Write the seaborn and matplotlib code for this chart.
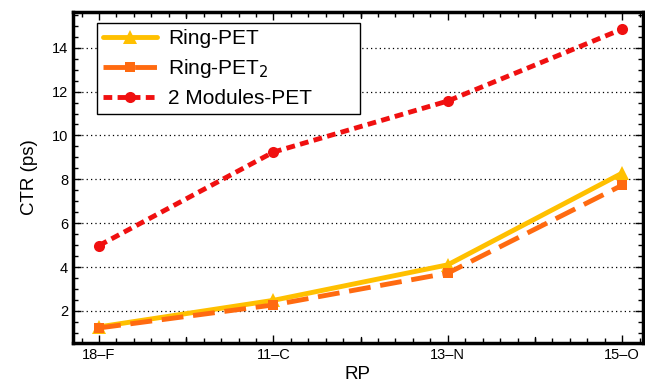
import numpy as np
import pandas as pd
import seaborn as sns
import matplotlib.pyplot as plt
from matplotlib.ticker import MultipleLocator

# data
isotopes = ["18\u2013F", "11\u2013C", "13\u2013N", "15\u2013O"]
ring_pet = [1.27, 2.48, 4.1, 8.28]
ring_pet2 = [1.22, 2.27, 3.72, 7.73]
modules_pet = [4.98, 9.24, 11.57, 14.85]

sns.set_theme(style="ticks")
plt.rcParams['font.family'] = ['Liberation Sans', 'DejaVu Sans']
plt.rcParams['text.color'] = 'black'
plt.rcParams['axes.labelcolor'] = 'black'
plt.rcParams['xtick.color'] = 'black'
plt.rcParams['ytick.color'] = 'black'

pos = np.arange(len(isotopes))
df = pd.DataFrame({"pos": pos, "ring": ring_pet, "ring2": ring_pet2, "mod": modules_pet})

fig, ax = plt.subplots(figsize=(6.45, 3.85), dpi=100)

sns.lineplot(data=df, x="pos", y="ring", ax=ax, color="#FFC000", lw=3.5,
             marker="^", markersize=10, markeredgewidth=0, label="Ring-PET")
sns.lineplot(data=df, x="pos", y="ring2", ax=ax, color="#FF6A10", lw=3.5,
             marker="s", markersize=7, markeredgewidth=0, label="Ring-PET$_2$",
             dashes=False, linestyle=(0, (4.5, 2)))
sns.lineplot(data=df, x="pos", y="mod", ax=ax, color="#F01010", lw=3.5,
             marker="o", markersize=8, markeredgewidth=0, label="2 Modules-PET",
             linestyle=(0, (1.8, 1.1)))

ax.set_xlim(-0.15, 3.12)
ax.set_ylim(0.55, 15.65)
ax.set_xticks(pos)
ax.set_xticklabels(isotopes)
ax.xaxis.set_minor_locator(MultipleLocator(0.1))
ax.yaxis.set_major_locator(MultipleLocator(2))
ax.yaxis.set_minor_locator(MultipleLocator(0.5))
# longer ticks at the half-way points on x
for xv in [0.5, 1.5, 2.5]:
    ax.axvline(xv, ymin=0, ymax=0.018, color="black", lw=1)
    ax.axvline(xv, ymin=0.982, ymax=1, color="black", lw=1)

ax.tick_params(which="both", direction="in", top=True, right=True, labelsize=10.5, width=1)
ax.tick_params(which="major", length=6)
ax.tick_params(which="minor", length=3.5)
ax.grid(axis="y", which="major", linestyle=(0, (1, 2.5)), color="black", lw=0.9)
for s in ax.spines.values():
    s.set_linewidth(2.5)
    s.set_color("black")

ax.set_xlabel("RP", fontsize=13.5, labelpad=3)
ax.set_ylabel("CTR (ps)", fontsize=13.5, labelpad=10)

leg = ax.legend(loc="upper left", fontsize=15, frameon=True, fancybox=False,
                edgecolor="black", framealpha=1, handlelength=2.6,
                bbox_to_anchor=(0.042, 0.0, 0.461, 0.964), mode="expand",
                borderaxespad=0, labelspacing=0.42, borderpad=0.28, handletextpad=0.55)
leg.get_frame().set_linewidth(1)
leg.set_zorder(5)

fig.subplots_adjust(left=0.113, right=0.997, top=0.97, bottom=0.11)
fig.savefig("out.png", dpi=100)
